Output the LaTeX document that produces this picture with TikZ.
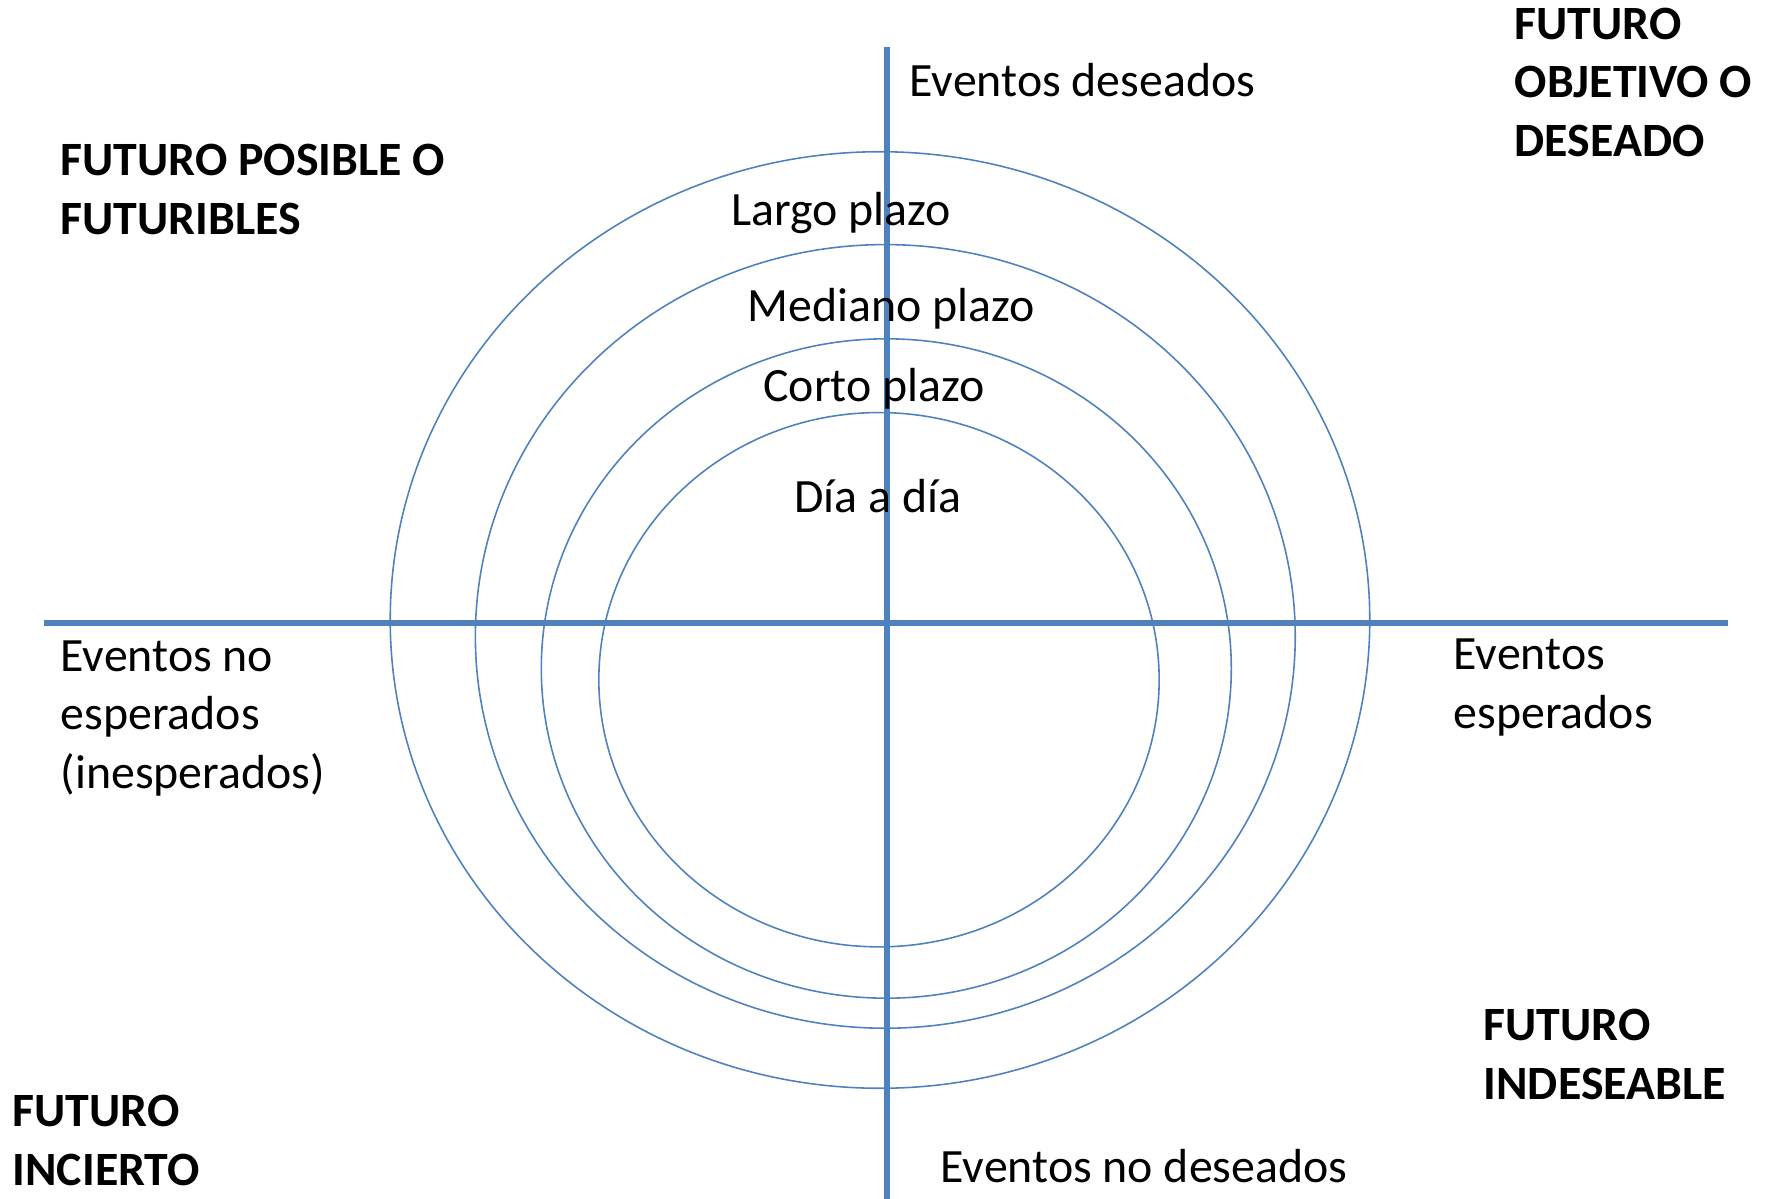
\documentclass[tikz,border=0pt]{standalone}
\usepackage{fontspec}
\setmainfont{Carlito}
\usepackage{tikz}
\definecolor{ejeazul}{HTML}{4F81BD}

\begin{document}
\begin{tikzpicture}[x=0.01cm, y=-0.01cm,
    eje/.style={line width=1.45pt, ejeazul},
    anillo/.style={line width=0.45pt, ejeazul},
    rotulo/.style={inner sep=0pt, align=left, font=\fontsize{13.6}{16.6}\selectfont},
    zona/.style={inner sep=0pt, align=left, font=\fontsize{13.6}{16.6}\selectfont\bfseries}]
    \useasboundingbox (0,0) rectangle (1768,1199);
    % anillos de plazo
    \draw [anillo] (880,620) ellipse [x radius=4.895cm, y radius=4.68cm];
    \draw [anillo] (885.3,636.4) ellipse [x radius=4.097cm, y radius=3.916cm];
    \draw [anillo] (886.3,668.5) ellipse [x radius=3.448cm, y radius=3.295cm];
    \draw [anillo] (879,679.7) ellipse [x radius=2.80cm, y radius=2.67cm];
    % ejes
    \coordinate (arriba) at (887,47);
    \coordinate (abajo) at (887,1199);
    \coordinate (izq) at (44,623);
    \coordinate (der) at (1728,623);
    \draw [eje] (izq) -- (der);
    \draw [eje] (arriba) -- (abajo);
    % plazos
    \node [rotulo, anchor=base] (largo) at (841,225) {Largo plazo};
    \node [rotulo, anchor=base] (mediano) at (891,321) {Mediano plazo};
    \node [rotulo, anchor=base] (corto) at (874,401) {Corto plazo};
    \node [rotulo, anchor=base] (diario) at (878,512) {Día a día};
    % eventos (base = ultima linea)
    \node [rotulo, anchor=base west] (deseados) at (909,96) {Eventos deseados};
    \node [rotulo, anchor=base west] (nodeseados) at (940,1182) {Eventos no deseados};
    \node [rotulo, anchor=base west] (esperados) at (1453,728) {Eventos\\esperados};
    \node [rotulo, anchor=base west] (inesperados) at (60,788) {Eventos no\\esperados\\(inesperados)};
    % futuros
    \node [zona, anchor=base west] (posible) at (60,234) {FUTURO POSIBLE O\\FUTURIBLES};
    \node [zona, anchor=base west] (objetivo) at (1514,156) {FUTURO\\OBJETIVO O\\DESEADO};
    \node [zona, anchor=base west] (indeseable) at (1483,1099) {FUTURO\\INDESEABLE};
    \node [zona, anchor=base west] (incierto) at (12,1185) {FUTURO\\INCIERTO};
\end{tikzpicture}
\end{document}
